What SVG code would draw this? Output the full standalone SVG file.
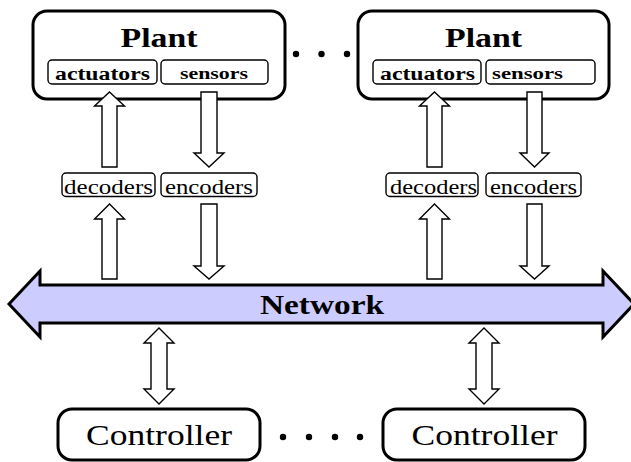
<svg xmlns="http://www.w3.org/2000/svg" width="631" height="462" viewBox="0 0 631 462">
<style>
.big{fill:#fff;stroke:#000;stroke-width:3}
.small{fill:#fff;stroke:#000;stroke-width:1.4}
.arr{fill:#fff;stroke:#000;stroke-width:1.4;stroke-linejoin:miter}
.net{fill:#ccccff;stroke:#000;stroke-width:3;stroke-linejoin:miter}
.tb{font-family:"Liberation Serif","DejaVu Serif",serif;font-weight:bold;text-anchor:middle;fill:#000}
.tr{font-family:"Liberation Serif","DejaVu Serif",serif;text-anchor:middle;fill:#000}
.dot{fill:#000}
</style>
<rect width="631" height="462" fill="#fff"/>
<g id="plant1">
<rect class="big" x="33" y="11" width="252" height="88" rx="14"/>
<text class="tb" x="159" y="47" font-size="28" textLength="77" lengthAdjust="spacingAndGlyphs">Plant</text>
<rect class="small" x="48" y="60" width="109" height="24" rx="4"/>
<text class="tb" x="102.5" y="79.5" font-size="18" textLength="95" lengthAdjust="spacingAndGlyphs">actuators</text>
<rect class="small" x="161" y="60" width="107" height="24" rx="4"/>
<text class="tb" x="214" y="78.5" font-size="17" textLength="68" lengthAdjust="spacingAndGlyphs">sensors</text>
</g>
<g id="plant2">
<rect class="big" x="358" y="11" width="251" height="88" rx="14"/>
<text class="tb" x="483.5" y="47" font-size="28" textLength="77" lengthAdjust="spacingAndGlyphs">Plant</text>
<rect class="small" x="373" y="60" width="108" height="24" rx="4"/>
<text class="tb" x="427.5" y="79.5" font-size="18" textLength="95" lengthAdjust="spacingAndGlyphs">actuators</text>
<rect class="small" x="486" y="60" width="109" height="24" rx="4"/>
<text class="tb" x="527.5" y="78.5" font-size="17" textLength="71" lengthAdjust="spacingAndGlyphs">sensors</text>
</g>
<g id="dots-plants">
<circle class="dot" cx="296" cy="54" r="3.2"/>
<circle class="dot" cx="321.5" cy="54" r="3.2"/>
<circle class="dot" cx="347" cy="54" r="3.2"/>
</g>
<g id="coders1">
<rect class="small" x="62" y="173" width="93" height="23.5" rx="4"/>
<text class="tr" x="108.5" y="193.5" font-size="20" textLength="89" lengthAdjust="spacingAndGlyphs">decoders</text>
<rect class="small" x="161" y="173" width="96" height="23.5" rx="4"/>
<text class="tr" x="209" y="193.5" font-size="20" textLength="88" lengthAdjust="spacingAndGlyphs">encoders</text>
</g>
<g id="coders2">
<rect class="small" x="386" y="173" width="92" height="23.5" rx="4"/>
<text class="tr" x="433.5" y="193.5" font-size="20" textLength="87" lengthAdjust="spacingAndGlyphs">decoders</text>
<rect class="small" x="486" y="173" width="95" height="23.5" rx="4"/>
<text class="tr" x="533.5" y="193.5" font-size="20" textLength="87" lengthAdjust="spacingAndGlyphs">encoders</text>
</g>
<g id="network">
<path class="net" d="M9,304 L40,271 L40,285 L603,285 L603,271 L634,304 L603,337 L603,323 L40,323 L40,337 Z"/>
<text class="tb" x="322" y="314" font-size="27" textLength="124" lengthAdjust="spacingAndGlyphs">Network</text>
</g>
<g id="controller1">
<rect class="big" x="58" y="409" width="202" height="51" rx="14"/>
<text class="tr" x="159" y="445" font-size="29" textLength="146" lengthAdjust="spacingAndGlyphs">Controller</text>
</g>
<g id="controller2">
<rect class="big" x="383" y="409" width="202" height="51" rx="14"/>
<text class="tr" x="484.5" y="445" font-size="29" textLength="146" lengthAdjust="spacingAndGlyphs">Controller</text>
</g>
<g id="dots-controllers">
<circle class="dot" cx="283" cy="437" r="3.2"/>
<circle class="dot" cx="309" cy="437" r="3.2"/>
<circle class="dot" cx="335" cy="437" r="3.2"/>
<circle class="dot" cx="360" cy="437" r="3.2"/>
</g>
<g id="connectors">
<path class="arr" d="M109.5,92 L124.5,106 L117,106 L117,167 L102,167 L102,106 L94.5,106 Z"/>
<path class="arr" d="M201,92 L217,92 L217,153 L224,153 L209,167 L194,153 L201,153 Z"/>
<path class="arr" d="M109.5,204 L124.5,219 L117,219 L117,279 L102,279 L102,219 L94.5,219 Z"/>
<path class="arr" d="M201,204 L217,204 L217,266 L224,266 L209,279 L194,266 L201,266 Z"/>
<path class="arr" d="M434.5,92 L449.5,106 L442,106 L442,167 L427,167 L427,106 L419.5,106 Z"/>
<path class="arr" d="M527,92 L542,92 L542,153 L549,153 L534.5,167 L520,153 L527,153 Z"/>
<path class="arr" d="M434.5,204 L449.5,219 L442,219 L442,279 L427,279 L427,219 L419.5,219 Z"/>
<path class="arr" d="M527,204 L542,204 L542,266 L549,266 L534.5,279 L520,266 L527,266 Z"/>
<path class="arr" d="M159,328 L174,343 L167,343 L167,389 L174,389 L159,404 L144,389 L151,389 L151,343 L144,343 Z"/>
<path class="arr" d="M484,328 L499,343 L492,343 L492,389 L499,389 L484,404 L469,389 L476,389 L476,343 L469,343 Z"/>
</g>
</svg>
